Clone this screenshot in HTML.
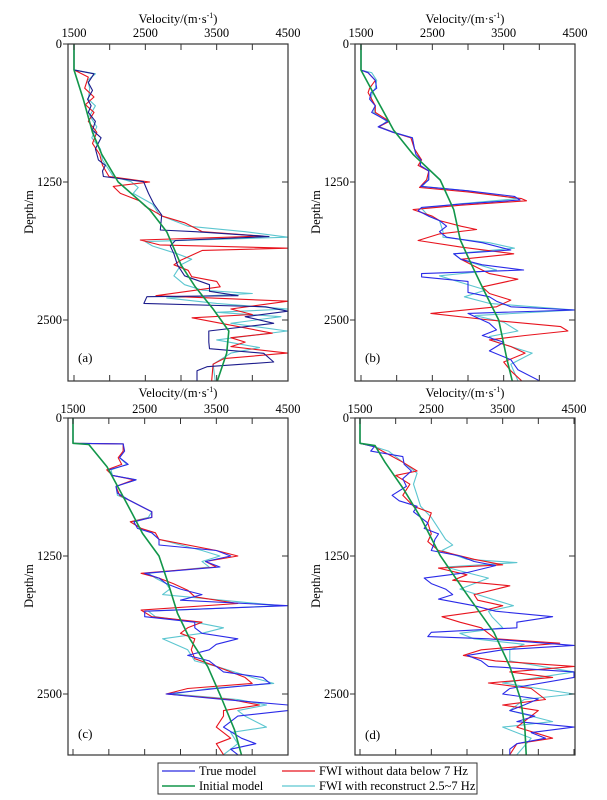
<!DOCTYPE html>
<html><head><meta charset="utf-8">
<style>
html,body{margin:0;padding:0;background:#fff;}
svg{display:block;font-family:"Liberation Serif",serif;}
</style></head>
<body>
<svg id="fig" width="607" height="800" viewBox="0 0 607 800" xmlns="http://www.w3.org/2000/svg">
<defs>
<clipPath id="clipA"><rect x="68" y="44" width="220" height="337"/></clipPath>
<clipPath id="clipB"><rect x="355" y="44" width="220" height="337"/></clipPath>
<clipPath id="clipC"><rect x="68" y="418" width="220" height="337"/></clipPath>
<clipPath id="clipD"><rect x="355" y="418" width="220" height="337"/></clipPath>
</defs>
<g id="legend">
<rect x="158" y="763" width="319" height="31" fill="#fff" stroke="#333" stroke-width="1"/>
<g><line x1="162" y1="771" x2="195" y2="771" stroke="#2a2ae0" stroke-width="1.2"/><text x="199" y="775" font-size="12.5">True model</text></g>
<g><line x1="162" y1="786" x2="195" y2="786" stroke="#12964a" stroke-width="1.6"/><text x="199" y="790" font-size="12.5">Initial model</text></g>
<g><line x1="282" y1="771" x2="315" y2="771" stroke="#e8141e" stroke-width="1.2"/><text x="319" y="775" font-size="12.5">FWI without data below 7 Hz</text></g>
<g><line x1="282" y1="786" x2="315" y2="786" stroke="#5cc6d0" stroke-width="1.2"/><text x="319" y="790" font-size="12.5">FWI with reconstruct 2.5~7 Hz</text></g>
</g>
</svg>
<script>
// ---- data (depth m, velocity m/s) ----
const velTicks = [1500, 2500, 3500, 4500];
const velMinorTicks = [1500, 2000, 2500, 3000, 3500, 4000, 4500];
const depthTicks = [0, 1250, 2500];

const aTrue = [[0,1500],[235,1500],[270,1780],[350,1700],[420,1760],[500,1690],[560,1740],[620,1700],[700,1800],[780,1760],[850,1880],[950,1800],[1050,1842],[1100,1940],[1150,1900],[1200,1912],[1247,2475],[1300,2510],[1353,2545],[1450,2620],[1550,2730],[1685,2710],[1700,3200],[1745,4233],[1780,2920],[1830,2850],[1900,2900],[2000,2950],[2100,3050],[2180,3400],[2240,3400],[2280,3800],[2289,2522],[2350,2480],[2380,4186],[2420,4500],[2470,3900],[2530,4300],[2600,3390],[2700,3390],[2760,3400],[2802,4160],[2880,4300],[2923,3365],[2960,3224],[3050,3224]];
const aInit = [[0,1500],[235,1500],[500,1630],[800,1760],[1000,1890],[1250,2120],[1500,2560],[1700,2800],[2000,3000],[2200,3200],[2400,3450],[2600,3670],[2800,3640],[3050,3510]];
const aRed = [[0,1500],[235,1500],[300,1700],[400,1650],[480,1780],[550,1660],[620,1780],[700,1700],[800,1820],[900,1760],[1000,1860],[1100,1900],[1200,1990],[1250,2560],[1290,2050],[1353,2150],[1420,2420],[1470,2500],[1560,2740],[1620,3050],[1700,3300],[1740,4150],[1775,2430],[1820,2700],[1850,4500],[1870,3300],[1957,3000],[2000,2900],[2050,3100],[2108,3150],[2150,3500],[2199,3550],[2280,2650],[2330,4500],[2400,3700],[2450,4000],[2480,3155],[2560,3800],[2620,4280],[2660,3700],[2700,3900],[2741,3700],[2800,4490],[2850,3600],[2900,3450],[3050,3430]];
const aCyan = [[0,1500],[235,1500],[270,1800],[330,1690],[400,1720],[500,1700],[560,1800],[650,1720],[750,1820],[850,1750],[950,1870],[1050,1900],[1150,2000],[1200,2050],[1247,2300],[1300,2400],[1353,2330],[1450,2600],[1550,2700],[1650,3100],[1700,3900],[1750,4500],[1790,2500],[1830,2600],[1900,2950],[1950,3150],[2000,3000],[2100,2900],[2180,3050],[2230,3300],[2260,4000],[2300,2800],[2350,3500],[2400,4500],[2430,3500],[2470,4400],[2530,3700],[2600,4490],[2680,3500],[2750,4100],[2800,3700],[2900,3450],[3050,3480]];

const bTrue = [[0,1500],[236,1500],[260,1600],[330,1700],[400,1720],[440,1640],[500,1620],[560,1700],[620,1650],[700,1880],[750,1740],[800,1950],[850,2220],[950,2250],[1000,2270],[1050,2340],[1100,2330],[1150,2450],[1230,2450],[1290,2340],[1330,3000],[1380,3650],[1413,3730],[1450,2900],[1480,2350],[1510,2300],[1560,2450],[1600,2600],[1650,2700],[1700,2600],[1750,2700],[1800,3200],[1866,3600],[1900,2800],[1950,2900],[2000,3200],[2047,3780],[2080,2350],[2110,2350],[2150,3000],[2250,3000],[2290,3300],[2330,3400],[2380,3600],[2409,4500],[2440,3000],[2470,3100],[2530,3300],[2590,3400],[2640,3200],[2700,3500],[2780,3300],[2860,3600],[2950,3700],[3050,4000]];
const bInit = [[0,1500],[236,1500],[500,1720],[779,1955],[1000,2230],[1232,2610],[1500,2800],[1775,2892],[2000,3050],[2228,3220],[2500,3430],[2862,3548],[3050,3620]];
const bRed = [[0,1500],[236,1500],[260,1600],[330,1700],[400,1620],[440,1600],[500,1650],[560,1700],[620,1700],[700,1900],[750,1750],[800,1950],[850,2200],[950,2250],[1050,2350],[1100,2300],[1150,2450],[1230,2420],[1300,2320],[1340,3000],[1400,3750],[1420,3820],[1460,2900],[1500,2230],[1560,2500],[1600,2600],[1650,2900],[1680,3120],[1720,2600],[1780,2300],[1840,2900],[1900,3640],[1950,2900],[2000,3050],[2080,3300],[2130,3700],[2200,3200],[2260,3300],[2320,3600],[2380,3400],[2440,2480],[2500,3300],[2560,4300],[2600,4400],[2640,3800],[2680,3300],[2740,3600],[2800,3800],[2880,3500],[2960,3600],[3050,3750]];
const bCyan = [[0,1500],[236,1500],[260,1650],[330,1720],[400,1700],[440,1660],[500,1640],[560,1700],[620,1680],[700,1860],[750,1760],[800,1960],[850,2220],[950,2250],[1050,2340],[1100,2330],[1150,2450],[1230,2440],[1290,2360],[1330,3000],[1400,3700],[1450,2850],[1490,2350],[1560,2450],[1600,2600],[1700,2650],[1750,2650],[1800,3300],[1850,3650],[1900,2800],[1950,2900],[2000,3150],[2047,3400],[2100,2600],[2160,2900],[2228,3250],[2290,2950],[2350,3300],[2409,4500],[2460,3100],[2520,3500],[2600,3700],[2650,3300],[2700,3400],[2800,3900],[2900,3600],[3050,3700]];

const cTrue = [[0,1500],[229,1500],[235,2200],[300,2220],[360,2150],[420,2270],[470,2000],[520,2050],[560,2380],[620,2100],[680,2120],[750,2300],[850,2600],[900,2600],[940,2350],[1000,2400],[1040,2600],[1100,2700],[1150,2700],[1200,3500],[1250,3700],[1300,3350],[1350,3550],[1407,2500],[1450,2700],[1500,2800],[1550,3000],[1600,3300],[1650,3000],[1700,4500],[1750,2500],[1800,2500],[1850,3200],[1900,3200],[1950,3300],[2000,3800],[2050,3500],[2100,3400],[2150,3100],[2200,3400],[2250,3500],[2300,3600],[2350,4150],[2404,4250],[2450,3500],[2500,2800],[2550,3600],[2600,4500],[2650,4500],[2700,3800],[2750,3700],[2800,3600],[2900,3850],[2950,4050],[3000,3700],[3050,3800]];
const cInit = [[0,1500],[229,1500],[240,1720],[441,1974],[652,2150],[864,2325],[1045,2470],[1250,2700],[1500,2830],[1770,2958],[2000,3130],[2252,3380],[2518,3560],[2827,3755],[3050,3850]];
const cRed = [[0,1500],[229,1500],[235,2200],[300,2200],[360,2130],[420,2180],[470,1970],[520,2050],[560,2350],[620,2100],[700,2150],[750,2300],[850,2600],[900,2600],[940,2300],[1000,2450],[1040,2650],[1100,2700],[1200,3500],[1250,3800],[1300,3350],[1350,3500],[1407,2450],[1450,2700],[1500,2900],[1560,3100],[1620,3200],[1680,3800],[1740,2450],[1800,2600],[1850,3300],[1900,3100],[1950,3000],[2000,3200],[2100,3150],[2180,3200],[2250,3500],[2350,3900],[2404,4000],[2450,3100],[2500,2800],[2550,3700],[2600,4100],[2650,3600],[2700,3600],[2800,3500],[2900,3700],[2950,3500],[3050,3600]];
const cCyan = [[0,1500],[229,1500],[235,2200],[300,2200],[360,2150],[420,2250],[470,2030],[520,2050],[560,2380],[620,2100],[700,2120],[750,2300],[850,2600],[900,2550],[940,2300],[1000,2450],[1040,2600],[1100,2700],[1200,3300],[1250,3550],[1300,3300],[1350,3400],[1407,2550],[1450,2650],[1500,2800],[1550,2850],[1600,2750],[1700,4400],[1750,2550],[1800,2650],[1850,3200],[1900,3600],[1950,3300],[2000,2750],[2100,3100],[2200,3200],[2250,3500],[2350,4000],[2404,4300],[2450,3400],[2500,2900],[2550,3800],[2600,4200],[2650,3800],[2700,3900],[2800,4200],[2850,3700],[2950,3800],[3050,3600]];

const dTrue = [[0,1500],[229,1500],[260,1700],[300,1650],[350,2100],[420,2120],[480,2220],[550,2100],[620,2150],[700,1950],[750,2050],[800,2300],[850,2250],[950,2450],[1000,2400],[1050,2600],[1100,2550],[1150,2530],[1200,2500],[1250,2900],[1300,3100],[1337,3400],[1400,3000],[1450,2400],[1500,2500],[1550,2700],[1600,2800],[1640,2600],[1700,3100],[1750,3400],[1800,4200],[1850,3700],[1900,3700],[1941,2500],[1980,2450],[2000,3300],[2060,4500],[2100,3500],[2150,3000],[2200,3200],[2250,3300],[2300,4500],[2350,4500],[2450,3600],[2500,3500],[2545,4000],[2600,3800],[2650,3600],[2700,3950],[2750,3700],[2800,4500],[2850,3900],[2900,4100],[2950,3700],[3000,3600],[3050,3600]];
const dInit = [[0,1500],[229,1500],[250,1710],[400,1850],[643,2110],[900,2350],[1247,2625],[1600,3000],[1940,3375],[2250,3600],[2545,3750],[2800,3810],[3050,3830]];
const dRed = [[0,1500],[229,1500],[260,1700],[400,2100],[480,2300],[520,2000],[600,2200],[700,2100],[800,2250],[860,2500],[950,2450],[1050,2500],[1120,2450],[1200,2600],[1280,3100],[1330,3500],[1360,2600],[1420,3000],[1470,2800],[1520,3600],[1600,3100],[1650,3150],[1700,3500],[1750,3200],[1800,2650],[1850,2900],[1900,3200],[2000,3400],[2040,4300],[2100,3200],[2150,2950],[2200,3400],[2250,4500],[2300,3600],[2350,4200],[2400,3300],[2450,3900],[2550,4100],[2600,3500],[2650,4000],[2700,3900],[2800,3700],[2900,4200],[2950,3700],[3050,3600]];
const dCyan = [[0,1500],[229,1500],[250,1650],[300,1900],[400,2100],[500,2300],[600,2250],[700,2300],[800,2350],[900,2500],[1000,2600],[1100,2700],[1150,2800],[1200,2650],[1280,3000],[1310,3700],[1350,2700],[1400,3000],[1450,3300],[1500,3100],[1550,2900],[1650,3400],[1700,3650],[1750,3300],[1800,3350],[1900,3500],[1950,2900],[2000,3100],[2050,3800],[2100,3600],[2200,3600],[2300,4500],[2400,3500],[2500,4500],[2550,3800],[2650,3600],[2750,4200],[2800,3500],[2900,3900],[3050,3700]];

const NS = 'http://www.w3.org/2000/svg';
const svg = document.getElementById('fig');
function mk(tag, attrs, parent) {
  const e = document.createElementNS(NS, tag);
  for (const k in attrs) e.setAttribute(k, attrs[k]);
  (parent || svg).appendChild(e);
  return e;
}

function drawPanel(p) {
  const g = mk('g', {});
  
  
  const xScale = v => p.x1500 + (v - 1500) * (p.x4500 - p.x1500) / 3000;
  const yScale = d => p.top + d * 0.1104;
  const bottom = p.top + 337;
  // series
  const sg = mk('g', {'clip-path': 'url(#' + p.clip + ')'}, g);
  const series = [
    {data: p.init, color: '#12964a', w: 1.6, name: 'initial-model-line'},
    {data: p.cyan, color: '#5cc6d0', w: 1.1, name: 'fwi-reconstruct-line'},
    {data: p.red, color: '#e8141e', w: 1.1, name: 'fwi-without-low-line'},
    {data: p.tru, color: p.trueColor, w: 1.1, name: 'true-model-line'}
  ];
  const order = [series[1], series[2], series[3], series[0]];
  order.forEach(s => {
    const pts = s.data.map(q => xScale(q[1]).toFixed(1) + ',' + yScale(q[0]).toFixed(1)).join(' ');
    const pl = mk('polyline', {points: pts, fill: 'none', stroke: s.color, 'stroke-width': s.w, 'stroke-linejoin': 'round'}, sg);
    
    
  });
  // box
  const box = mk('rect', {x: p.left, y: p.top, width: p.right - p.left, height: 337, fill: 'none', stroke: '#333', 'stroke-width': 1.2}, g);
  
  
  // velocity ticks
  velMinorTicks.forEach(v => {
    const x = xScale(v);
    mk('line', {x1: x, y1: p.top, x2: x, y2: p.top + 6, stroke: '#333', 'stroke-width': 1}, g);
    mk('line', {x1: x, y1: bottom, x2: x, y2: bottom - 6, stroke: '#333', 'stroke-width': 1}, g);
  });
  velTicks.forEach(v => {
    const t = mk('text', {x: xScale(v), y: p.top - (p.id === 'a' || p.id === 'b' ? 7 : 5), 'font-size': 12.5, 'text-anchor': 'middle'}, g);
    t.textContent = v;
    
    
  });
  const title = mk('text', {x: (p.left + p.right) / 2, y: p.top - (p.id === 'a' || p.id === 'b' ? 21 : 21), 'font-size': 12.5, 'text-anchor': 'middle'}, g);
  title.innerHTML = 'Velocity/(m·s<tspan font-size="8" dy="-5">-1</tspan><tspan dy="5">)</tspan>';
  
  
  // depth ticks
  depthTicks.forEach(d => {
    const y = yScale(d);
    mk('line', {x1: p.left - 5, y1: y, x2: p.left, y2: y, stroke: '#333', 'stroke-width': 1}, g);
    mk('line', {x1: p.right - 6, y1: y, x2: p.right, y2: y, stroke: '#333', 'stroke-width': 1}, g);
    const t = mk('text', {x: p.left - 6, y: y + 4, 'font-size': 12.5, 'text-anchor': 'end'}, g);
    t.textContent = d;
    
    
  });
  const dt = mk('text', {x: 0, y: 0, 'font-size': 12.5, 'text-anchor': 'middle', transform: 'translate(' + (p.left - 35) + ',' + (p.top + 168) + ') rotate(-90)'}, g);
  dt.textContent = 'Depth/m';
  
  
  const lab = mk('text', {x: p.left + 10, y: p.labY, 'font-size': 13}, g);
  lab.textContent = '(' + p.id + ')';
  
  
}

drawPanel({id: 'a', left: 68, right: 288, top: 44, x1500: 74, x4500: 288, clip: 'clipA', labY: 362, tru: aTrue, init: aInit, red: aRed, cyan: aCyan, trueColor: '#1c1c8c'});
drawPanel({id: 'b', left: 355, right: 575, top: 44, x1500: 361, x4500: 575, clip: 'clipB', labY: 362, tru: bTrue, init: bInit, red: bRed, cyan: bCyan, trueColor: '#2a2ae8'});
drawPanel({id: 'c', left: 68, right: 288, top: 418, x1500: 73, x4500: 288, clip: 'clipC', labY: 738, tru: cTrue, init: cInit, red: cRed, cyan: cCyan, trueColor: '#2a2ae8'});
drawPanel({id: 'd', left: 355, right: 575, top: 418, x1500: 360, x4500: 574, clip: 'clipD', labY: 739, tru: dTrue, init: dInit, red: dRed, cyan: dCyan, trueColor: '#2a2ae8'});
svg.appendChild(document.getElementById('legend'));
</script>
</body></html>
